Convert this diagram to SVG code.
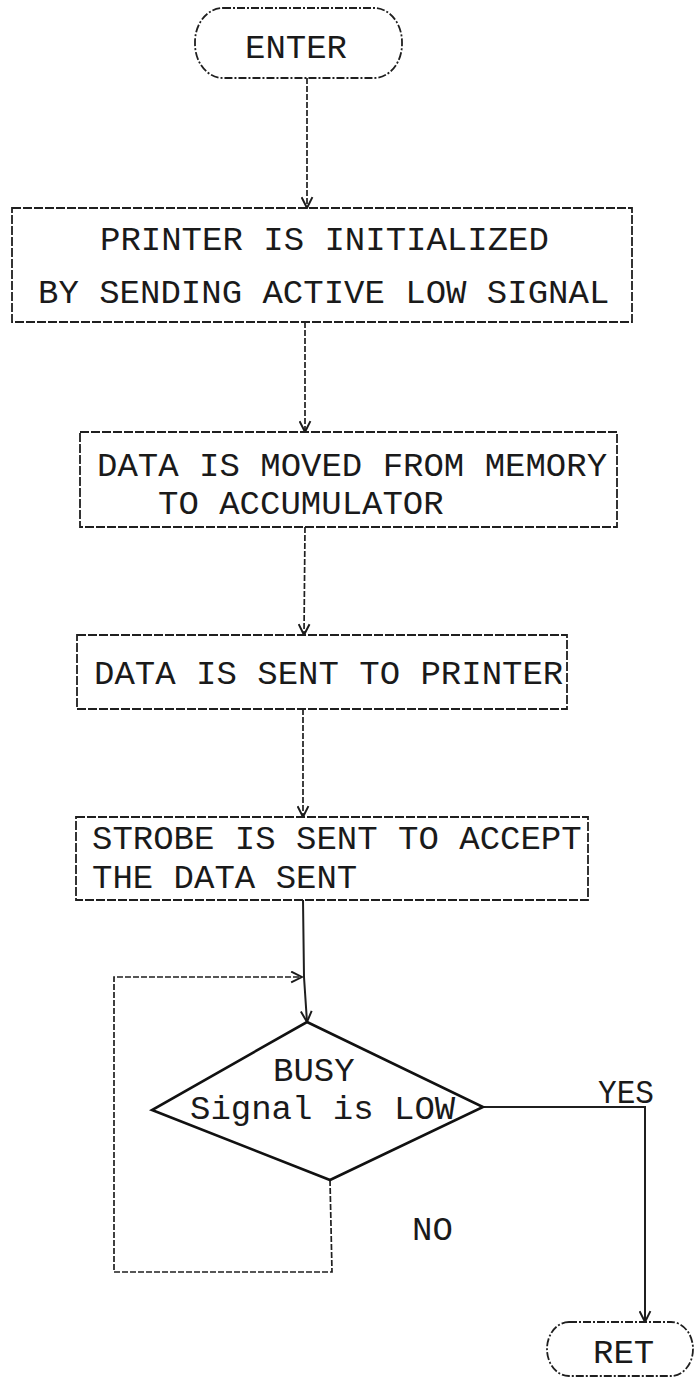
<svg xmlns="http://www.w3.org/2000/svg" width="695" height="1381" viewBox="0 0 695 1381">
  <defs>
    <!-- open V arrowhead used on every flow line -->
    <marker id="arrow" viewBox="0 0 12 12" refX="11" refY="6" markerWidth="13" markerHeight="13" markerUnits="userSpaceOnUse" orient="auto">
      <path d="M1,1 L11,6 L1,11" fill="none" stroke="#1a1a1a" stroke-width="1.8"/>
    </marker>
    <style>
      .txt { font-family: "Liberation Mono", "DejaVu Sans Mono", monospace; font-size: 34px; fill: #1a1a1a; }
      .box { fill: none; stroke: #1f1f1f; stroke-width: 1.8; stroke-dasharray: 9 2; }
      .term { fill: none; stroke: #1f1f1f; stroke-width: 1.8; stroke-dasharray: 8 2 2 2; }
      .dec { fill: none; stroke: #111; stroke-width: 2.6; stroke-linejoin: miter; }
      .flow { fill: none; stroke: #1f1f1f; stroke-width: 1.7; stroke-dasharray: 6 2; }
      .solid { fill: none; stroke: #1f1f1f; stroke-width: 2; }
    </style>
  </defs>

  <rect width="695" height="1381" fill="#ffffff"/>

  <!-- flow lines -->
  <g id="connectors">
    <line class="flow" x1="307" y1="78" x2="307" y2="208" marker-end="url(#arrow)"/>
    <line class="flow" x1="305" y1="322" x2="305" y2="432" marker-end="url(#arrow)"/>
    <line class="flow" x1="305" y1="527" x2="304" y2="635" marker-end="url(#arrow)"/>
    <line class="flow" x1="303" y1="709" x2="303" y2="817" marker-end="url(#arrow)"/>
    <polyline class="solid" points="303,900 304,977 307,1022" marker-end="url(#arrow)"/>
    <!-- NO branch loops back above the decision -->
    <polyline class="flow" points="330,1180 332,1272 114,1272 114,977 302,977" marker-end="url(#arrow)"/>
    <!-- YES branch to return -->
    <polyline class="solid" points="483,1107 645,1107 645,1322" marker-end="url(#arrow)"/>
  </g>

  <g id="enter">
    <rect class="term" x="195" y="8" width="207" height="70" rx="28" ry="34"/>
    <text class="txt" x="245" y="58">ENTER</text>
  </g>

  <g id="init-printer">
    <rect class="box" x="12" y="208" width="620" height="114"/>
    <text class="txt" x="100" y="250">PRINTER IS INITIALIZED</text>
    <text class="txt" x="38" y="303">BY SENDING ACTIVE LOW SIGNAL</text>
  </g>

  <g id="move-data">
    <rect class="box" x="80" y="432" width="537" height="95"/>
    <text class="txt" x="97" y="476">DATA IS MOVED FROM MEMORY</text>
    <text class="txt" x="158" y="514">TO ACCUMULATOR</text>
  </g>

  <g id="send-data">
    <rect class="box" x="77" y="635" width="490" height="74"/>
    <text class="txt" x="94" y="684">DATA IS SENT TO PRINTER</text>
  </g>

  <g id="strobe">
    <rect class="box" x="76" y="817" width="512" height="83"/>
    <text class="txt" x="92" y="849">STROBE IS SENT TO ACCEPT</text>
    <text class="txt" x="92" y="888">THE DATA SENT</text>
  </g>

  <g id="busy-check">
    <polygon class="dec" points="307,1022 483,1107 330,1180 152,1110"/>
    <text class="txt" x="273" y="1081">BUSY</text>
    <text class="txt" x="190" y="1119">Signal is LOW</text>
  </g>

  <g id="branch-labels">
    <text class="txt" x="598" y="1103" textLength="56" lengthAdjust="spacingAndGlyphs">YES</text>
    <text class="txt" x="412" y="1240">NO</text>
  </g>

  <g id="ret">
    <rect class="term" x="547" y="1322" width="146" height="54" rx="22" ry="27"/>
    <text class="txt" x="593" y="1363">RET</text>
  </g>
</svg>
